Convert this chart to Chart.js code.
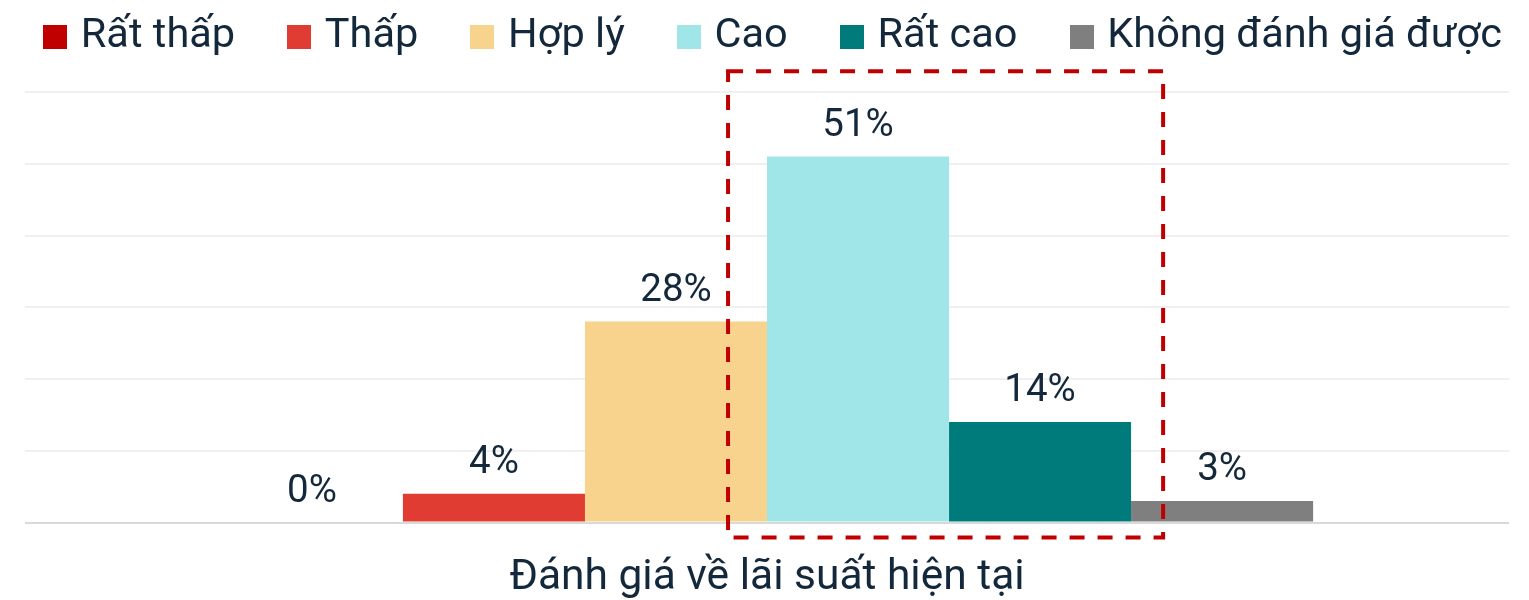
<!DOCTYPE html>
<html><head><meta charset="utf-8">
<script src="https://cdn.jsdelivr.net/npm/chart.js@4.4.1/dist/chart.umd.min.js"></script>
<style>html,body{margin:0;padding:0;background:#fff;}</style>
</head><body>
<canvas id="c" width="1529" height="600"></canvas>
<script>
const categories = ['Đánh giá về lãi suất hiện tại'];
const seriesNames = ['Rất thấp', 'Thấp', 'Hợp lý', 'Cao', 'Rất cao', 'Không đánh giá được'];
const seriesValues = [[0], [4], [28], [51], [14], [3]];
const seriesColors = ['#C00000', '#E03C31', '#F8D38D', '#A0E5E8', '#007B7B', '#7F7F7F'];
const yTicks = [0, 10, 20, 30, 40, 50, 60];
const highlightSeries = ['Cao', 'Rất cao'];

const textColor = '#14283c';
const FONT = 'Roboto';

const swatches = seriesColors.map(c => {
  const cv = document.createElement('canvas');
  cv.width = 24; cv.height = 24;
  const g = cv.getContext('2d');
  g.fillStyle = c; g.fillRect(0, 0, 24, 24);
  return cv;
});

const legendFix = {
  id: 'legendFix',
  beforeInit(chart) {
    const lg = chart.legend;
    if (!lg) return;
    const origFit = lg.fit;
    lg.fit = function () {
      this.maxWidth = 5000;
      origFit.call(this);
      this.height = 135;
    };
    const origDraw = lg.draw;
    lg.draw = function () {
      const l = this.left, r = this.right;
      this.left = l - 191; this.right = r + 209;
      origDraw.call(this);
      this.left = l; this.right = r;
    };
  }
};

const valueLabels = {
  id: 'valueLabels',
  afterDatasetsDraw(chart) {
    const ctx = chart.ctx;
    ctx.save();
    ctx.font = '38.5px ' + FONT;
    ctx.fillStyle = textColor;
    ctx.textAlign = 'center';
    ctx.textBaseline = 'alphabetic';
    chart.data.datasets.forEach((ds, i) => {
      const meta = chart.getDatasetMeta(i);
      meta.data.forEach((bar, j) => {
        ctx.fillText(ds.data[j] + '%', bar.x, bar.y - 21);
      });
    });
    ctx.restore();
  }
};

const highlightBox = {
  id: 'highlightBox',
  afterDraw(chart) {
    const idxs = highlightSeries.map(n => seriesNames.indexOf(n));
    const first = chart.getDatasetMeta(idxs[0]).data[0];
    const last = chart.getDatasetMeta(idxs[idxs.length - 1]).data[0];
    const w = first.width;
    const left = first.x - w / 2 - 0.214 * w;
    const right = last.x + last.width / 2 + 0.176 * w;
    const ys = chart.scales.y;
    const top = ys.getPixelForValue(62.9);
    const bottom = ys.getPixelForValue(-2.1);
    const ctx = chart.ctx;
    ctx.save();
    ctx.strokeStyle = '#C00000';
    ctx.lineWidth = 4;
    ctx.setLineDash([15, 13]);
    ctx.strokeRect(left, top, right - left, bottom - top);
    ctx.restore();
  }
};

new Chart(document.getElementById('c'), {
  type: 'bar',
  data: {
    labels: categories,
    datasets: seriesNames.map((n, i) => ({
      label: n,
      data: seriesValues[i],
      backgroundColor: seriesColors[i],
      borderWidth: 0,
      categoryPercentage: 0.736,
      barPercentage: 1
    }))
  },
  options: {
    responsive: false,
    devicePixelRatio: 1,
    animation: false,
    layout: { padding: { top: -43, left: 25, right: 20, bottom: -35 } },
    plugins: {
      tooltip: { enabled: false },
      legend: {
        position: 'top',
        labels: {
          usePointStyle: true,
          pointStyleWidth: 10,
          boxHeight: 24,
          padding: 59,
          color: textColor,
          font: { family: FONT, size: 41.5 },
          generateLabels(chart) {
            return chart.data.datasets.map((ds, i) => ({
              text: ds.label,
              fillStyle: ds.backgroundColor,
              strokeStyle: ds.backgroundColor,
              lineWidth: 0,
              hidden: !chart.isDatasetVisible(i),
              datasetIndex: i,
              pointStyle: swatches[i],
              fontColor: textColor
            }));
          }
        }
      }
    },
    scales: {
      x: {
        grid: { display: false, drawTicks: false },
        border: { display: false },
        ticks: { color: textColor, font: { family: FONT, size: 42.5, lineHeight: 1 }, padding: 35 }
      },
      y: {
        min: yTicks[0],
        max: yTicks[yTicks.length - 1],
        afterBuildTicks(scale) { scale.ticks = yTicks.map(v => ({ value: v })); },
        grid: {
          drawTicks: false,
          lineWidth: 2,
          color: c => (c.tick && c.tick.value === 0) ? '#d9d9d9' : '#f0f0f0'
        },
        border: { display: false },
        ticks: { display: false }
      }
    }
  },
  plugins: [legendFix, valueLabels, highlightBox]
});
</script>
</body></html>
